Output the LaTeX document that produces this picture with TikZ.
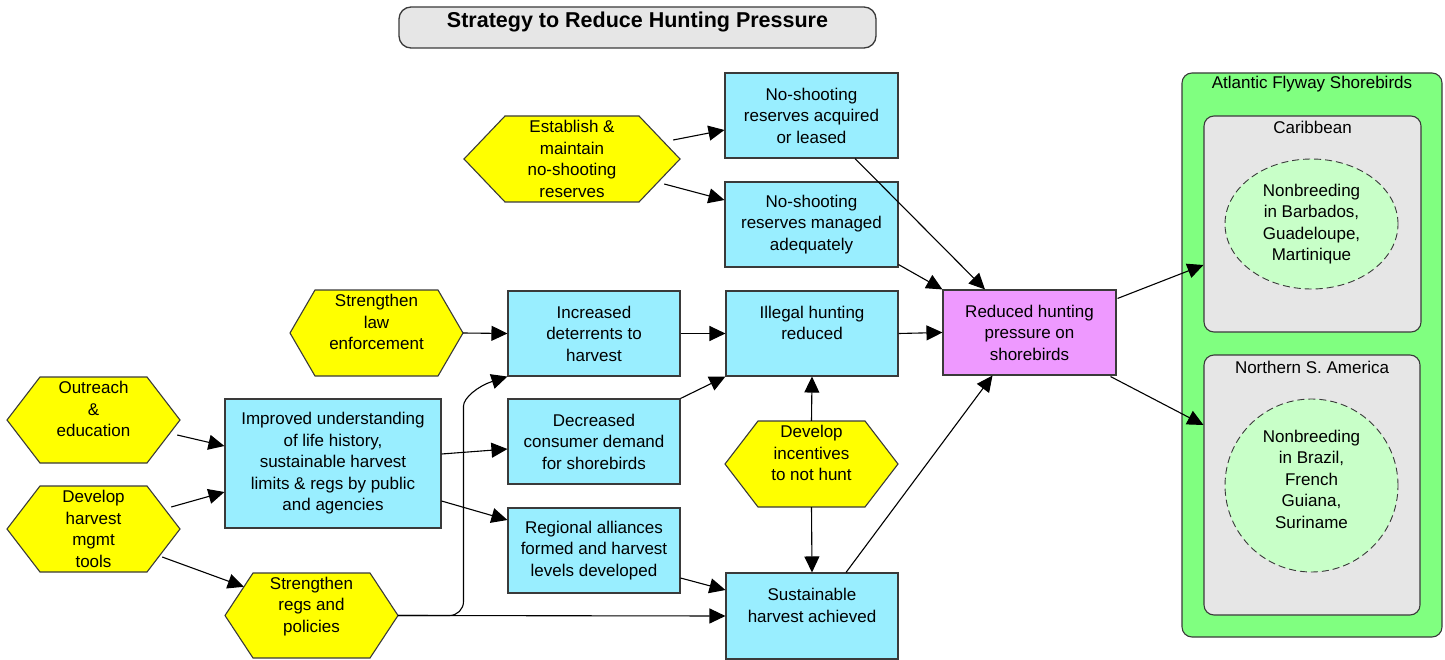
\documentclass[tikz,border=0pt]{standalone}
\usepackage{fontspec}
\setmainfont{Liberation Sans}
\usetikzlibrary{arrows.meta,shapes.geometric,calc}

\definecolor{boxcyan}{HTML}{99EEFF}
\definecolor{hexyellow}{HTML}{FFFF00}
\definecolor{outpink}{HTML}{EE99FF}
\definecolor{flygreen}{HTML}{80FF80}
\definecolor{regiongray}{HTML}{E6E6E6}
\definecolor{rangegreen}{HTML}{C8FFC8}
\definecolor{edgegray}{HTML}{3A3A3A}

\tikzset{
  plain/.style={inner sep=0pt, align=center},
  cbox/.style={plain, draw=edgegray, line width=1.1pt, fill=boxcyan,
    minimum width=173pt, minimum height=85pt},
  goalbox/.style={cbox, fill=outpink},
  hexshape/.style={draw=edgegray, line width=1.1pt, fill=hexyellow, line join=miter},
  hextext/.style={plain},
  regionbox/.style={draw=edgegray, line width=1.1pt, fill=regiongray, rounded corners=10pt},
  rangeshape/.style={plain, draw=edgegray, line width=0.9pt, fill=rangegreen,
    dash pattern=on 7pt off 4pt},
  conn/.style={-{Triangle[length=16pt,width=15pt]}, line width=1.1pt, black},
}

% hexagonal strategy node: name, centre x, centre y, width, height, corner inset, text
\newcommand\hexnode[7]{%
  \draw[hexshape] ({#2-#4/2},#3) -- ({#2-#4/2+#6},{#3-#5/2}) -- ({#2+#4/2-#6},{#3-#5/2})
    -- ({#2+#4/2},#3) -- ({#2+#4/2-#6},{#3+#5/2}) -- ({#2-#4/2+#6},{#3+#5/2}) -- cycle;
  \node[hextext, minimum width=#4pt, minimum height=#5pt] (#1) at (#2,#3) {#7};
}

\begin{document}
\begin{tikzpicture}[x=1pt, y=-1pt, font=\fontsize{17pt}{21.5pt}\selectfont]
\useasboundingbox (0,0) rectangle (1445,660);

% title
\node[plain, draw=edgegray, line width=1.3pt, fill=regiongray, rounded corners=12pt,
  minimum width=477pt, minimum height=41pt] (title) at (637.5,27.5) {};
\node[plain, font=\fontsize{21.5pt}{26pt}\selectfont\bfseries] (titletext) at (637.5,21.5)
  {Strategy to Reduce Hunting Pressure};

% target container
\node[plain, draw=edgegray, line width=1.1pt, fill=flygreen, rounded corners=10pt,
  minimum width=260pt, minimum height=564pt] (flyway) at (1312,355) {};
\node[plain] (flylbl) at (1312,84) {Atlantic Flyway Shorebirds};
\node[regionbox, plain, minimum width=217pt, minimum height=216pt] (carib) at (1312.5,224) {};
\node[plain] (cariblbl) at (1312.5,127) {Caribbean};
\node[regionbox, plain, minimum width=216pt, minimum height=260pt] (nsam) at (1312,485) {};
\node[plain] (nsamlbl) at (1312,367) {Northern S. America};
\node[rangeshape, ellipse, minimum width=173pt, minimum height=130pt] (carnb) at (1311.5,224)
  {Nonbreeding\\in Barbados,\\Guadeloupe,\\Martinique};
\node[rangeshape, circle, minimum size=173pt] (samnb) at (1311.5,485.5) {};
\node[plain] (samnbtext) at (1311.5,479)
  {Nonbreeding\\in Brazil,\\French\\Guiana,\\Suriname};

% strategies
\hexnode{est}{572}{159}{216}{86}{41}{Establish \&\\maintain\\no-shooting\\reserves}
\hexnode{law}{376.5}{333}{173}{86}{25}{Strengthen\\law\\enforcement\\\mbox{}}
\hexnode{out}{93.5}{420}{173}{86}{33}{Outreach\\\&\\education\\\mbox{}}
\hexnode{dev}{93.5}{529}{173}{86}{33}{Develop\\harvest\\mgmt\\tools}
\hexnode{srp}{311.5}{615.5}{173}{85}{28}{Strengthen\\regs and\\policies\\\mbox{}}
\hexnode{incent}{811.5}{464}{173}{86}{33}{Develop\\incentives\\to not hunt\\\mbox{}}

% results
\node[cbox] (nsa) at (811.5,115.5) {No-shooting\\reserves acquired\\or leased};
\node[cbox] (nsm) at (811.5,224.5) {No-shooting\\reserves managed\\adequately};
\node[cbox, minimum width=172pt] (det) at (594,333.5) {Increased\\deterrents to\\harvest};
\node[cbox, minimum width=172pt] (ill) at (812,333.5) {Illegal hunting\\reduced\\\mbox{}};
\node[cbox, minimum width=172pt] (dec) at (594,441.5) {Decreased\\consumer demand\\for shorebirds};
\node[cbox, minimum width=172pt] (reg) at (594,550.5) {Regional alliances\\formed and harvest\\levels developed};
\node[cbox, minimum width=172pt, minimum height=86pt] (sus) at (812,616) {Sustainable\\harvest achieved\\\mbox{}};
\node[cbox, minimum width=216pt, minimum height=129pt] (imp) at (333,463.5)
  {Improved understanding\\of life history,\\sustainable harvest\\limits \& regs by public\\and agencies};
\node[goalbox] (red) at (1029.5,332.5) {Reduced hunting\\pressure on\\shorebirds};

% connectors
\draw[conn] ([shift={(-7,-19)}]est.east) -- ([shift={(0,14.5)}]nsa.west);
\draw[conn] ([shift={(-16,25)}]est.east) -- ([shift={(0,-24.5)}]nsm.west);
\draw[conn] (law.east) -- (det.west);
\draw[conn] (det.east) -- (ill.west);
\draw[conn] (ill.east) -- (red.west);
\draw[conn] ([shift={(43.5,0)}]nsa.south) -- ([shift={(-44.5,0)}]red.north);
\draw[conn] ([shift={(0,-3)}]nsm.south east) -- (red.north west);
\draw[conn] ([shift={(34,0)}]sus.north) -- ([shift={(-37,0)}]red.south);
\draw[conn] (dec.north east) -- (ill.south west);
\draw[conn] ([shift={(0,27.5)}]reg.east) -- ([shift={(0,-26)}]sus.west);
\draw[conn] (incent.north) -- (ill.south);
\draw[conn] (incent.south) -- (sus.north);
\draw[conn] ([shift={(0,-9.5)}]imp.east) -- ([shift={(0,7.5)}]dec.west);
\draw[conn] ([shift={(0,37.5)}]imp.east) -- ([shift={(0,-30.5)}]reg.west);
\draw[conn] ([shift={(-3,15)}]out.east) -- ([shift={(0,-17.5)}]imp.west);
\draw[conn] ([shift={(-9,-22)}]dev.east) -- ([shift={(0,28.5)}]imp.west);
\draw[conn] ([shift={(-18,28)}]dev.east) -- ([shift={(19,14)}]srp.north west);
\draw[conn] (srp.east) -- (sus.west);
\coordinate (riser) at (463.5,420);
\draw[conn] (srp.east) [rounded corners=14pt] -| (riser) [sharp corners]
  .. controls (463.5,398) and (478,386) .. (det.south west);
\draw[conn] ([shift={(1,9)}]red.north east) -- ([shift={(0,41)}]carib.west);
\draw[conn] ([shift={(-6,1)}]red.south east) -- ([shift={(0,-60)}]nsam.west);
\end{tikzpicture}
\end{document}
